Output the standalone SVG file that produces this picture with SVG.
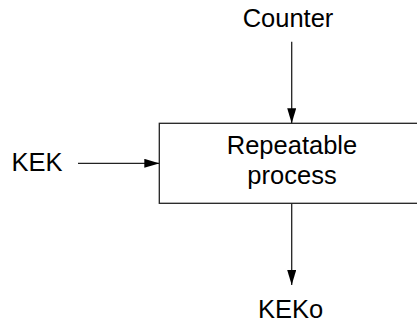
<svg xmlns="http://www.w3.org/2000/svg" width="417" height="325" viewBox="0 0 417 325">
<style>
text{font-family:"Liberation Sans",Arial,sans-serif;font-size:25.5px;fill:#000}
.ln{stroke:#222;stroke-width:1.3;fill:none}
</style>
<defs>
<marker id="ah" markerUnits="userSpaceOnUse" markerWidth="15" markerHeight="9" refX="15" refY="4.5" orient="auto">
<path d="M0,0 L15,4.5 L0,9 Z" fill="#000"/>
</marker>
</defs>
<rect width="417" height="325" fill="#fff"/>
<g id="process">
<rect class="ln" x="159.3" y="123.3" width="266" height="80"/>
<text x="292" y="154" text-anchor="middle">Repeatable</text>
<text x="292" y="184" text-anchor="middle">process</text>
</g>
<g id="counter"><text x="288" y="27" text-anchor="middle">Counter</text></g>
<g id="kek"><text x="11.5" y="171">KEK</text></g>
<g id="keko"><text x="290.5" y="317.5" text-anchor="middle">KEKo</text></g>
<g id="connectors">
<line class="ln" x1="291.7" y1="41.7" x2="291.7" y2="123.3" marker-end="url(#ah)"/>
<line class="ln" x1="78" y1="163.3" x2="159.3" y2="163.3" marker-end="url(#ah)"/>
<line class="ln" x1="291.7" y1="203.3" x2="291.7" y2="285" marker-end="url(#ah)"/>
</g>
</svg>
